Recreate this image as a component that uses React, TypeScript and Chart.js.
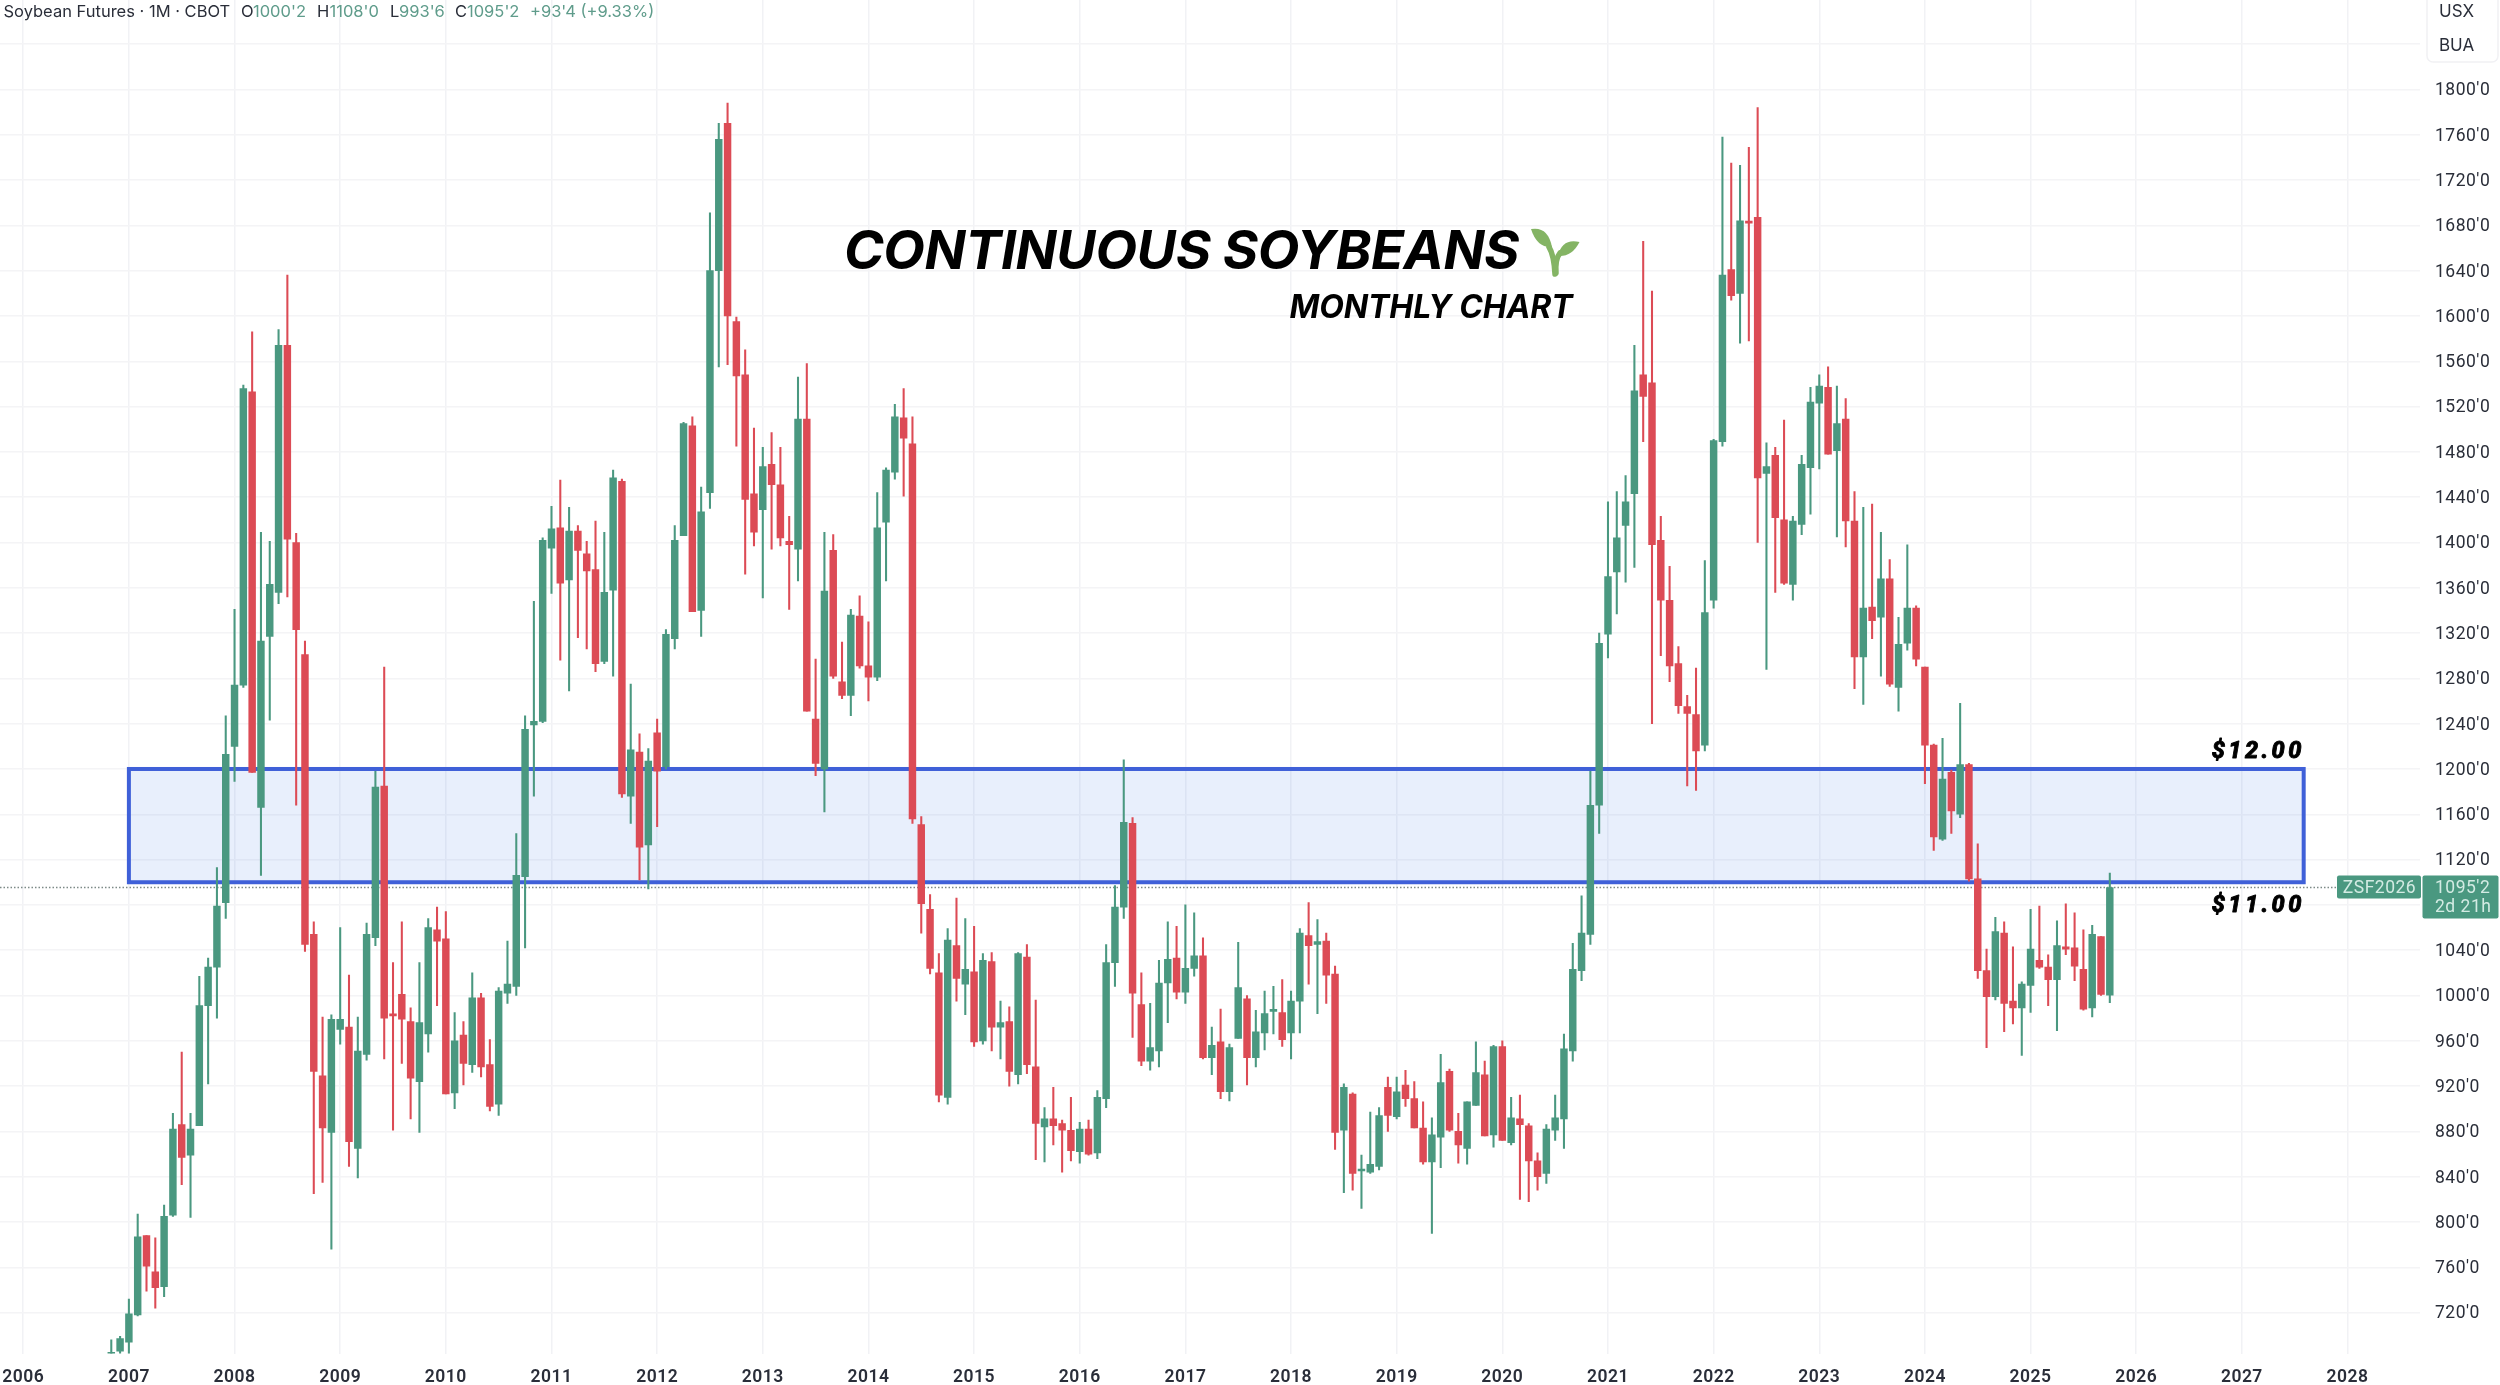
import React, { useEffect, useRef } from "react";
import { Chart, registerables } from "chart.js";

Chart.register(...registerables);

const firstYear = 2006;
const firstMonth = 10; // November

const opens = [
  672, 686,
  694, 718, 788, 756, 743, 806, 886, 859, 885, 991, 1025, 1082,
  1220, 1274, 1533, 1166, 1317, 1356, 1574, 1400, 1301, 1054, 929, 879,
  970, 972, 865, 948, 1051, 1185, 983, 1001, 977, 924, 966, 1058,
  1050, 914, 965, 939, 998, 939, 904, 1002, 1008, 1105, 1239, 1242,
  1395, 1413, 1367, 1410, 1390, 1376, 1295, 1358, 1454, 1176, 1215, 1133,
  1232, 1202, 1315, 1406, 1503, 1340, 1444, 1640, 1770, 1595, 1548, 1443,
  1429, 1469, 1451, 1401, 1394, 1509, 1244, 1200, 1393, 1277, 1265, 1335,
  1291, 1281, 1418, 1462, 1510, 1487, 1151, 1076, 1020, 910, 1044, 1010,
  1021, 960, 1030, 972, 977, 930, 1034, 937, 884, 891, 887, 881,
  862, 882, 861, 909, 1029, 1078, 1152, 992, 942, 951, 1011, 1033,
  1003, 1024, 1035, 945, 959, 915, 962, 997, 945, 967, 986, 985,
  967, 995, 1053, 1045, 1048, 1019, 881, 913, 845, 844, 849, 919,
  893, 921, 909, 883, 853, 875, 933, 880, 865, 903, 930, 877,
  955, 870, 891, 885, 854, 843, 881, 891, 951, 1022, 1054, 1168,
  1319, 1374, 1415, 1443, 1548, 1541, 1402, 1349, 1293, 1255, 1248, 1221,
  1349, 1489, 1641, 1620, 1683, 1687, 1461, 1477, 1420, 1363, 1416, 1466,
  1523, 1537, 1481, 1509, 1419, 1299, 1343, 1334, 1368, 1272, 1311, 1342,
  1290, 1221, 1138, 1197, 1160, 1204, 1103, 1022, 999, 1055, 995, 989,
  1009, 1031, 1025, 1014, 1043, 1042, 1023, 989, 1052, 1000.25,
];

const highs = [
  696, 699,
  732, 807, 788, 786, 815, 896, 950, 896, 1017, 1033, 1113, 1247,
  1341, 1539, 1586, 1409, 1401, 1588, 1636, 1408, 1313, 1065, 981, 983,
  1060, 1018, 981, 1064, 1198, 1290, 1029, 1065, 989, 1029, 1068, 1078,
  1074, 985, 977, 1020, 1002, 961, 1007, 1048, 1143, 1247, 1348, 1404,
  1432, 1455, 1431, 1415, 1401, 1419, 1409, 1464, 1456, 1275, 1231, 1218,
  1244, 1323, 1415, 1506, 1511, 1449, 1691, 1770, 1788, 1599, 1570, 1501,
  1484, 1497, 1484, 1423, 1546, 1558, 1297, 1409, 1407, 1312, 1341, 1353,
  1330, 1444, 1466, 1522, 1536, 1511, 1158, 1089, 1037, 1059, 1086, 1068,
  1061, 1037, 1038, 995, 990, 1038, 1045, 996, 901, 919, 890, 910,
  888, 890, 916, 1045, 1097, 1208, 1157, 1020, 993, 1031, 1065, 1061,
  1080, 1073, 1051, 972, 988, 957, 1047, 1000, 987, 1004, 1008, 1014,
  1004, 1059, 1082, 1067, 1055, 1026, 922, 914, 859, 897, 901, 928,
  928, 934, 924, 906, 892, 948, 935, 896, 906, 959, 942, 956,
  960, 910, 912, 887, 861, 886, 912, 966, 1046, 1088, 1198, 1320,
  1436, 1445, 1459, 1574, 1666, 1622, 1423, 1379, 1308, 1265, 1289, 1384,
  1491, 1758, 1735, 1733, 1749, 1784, 1488, 1484, 1508, 1423, 1477, 1537,
  1548, 1555, 1538, 1527, 1445, 1431, 1434, 1409, 1385, 1334, 1398, 1344,
  1290, 1222, 1227, 1199, 1258, 1205, 1134, 1041, 1069, 1065, 1043, 1012,
  1076, 1079, 1036, 1066, 1081, 1073, 1058, 1062, 1052, 1108,
];

const lows = [
  668, 682,
  682, 717, 739, 724, 734, 805, 833, 804, 885, 922, 980, 1068,
  1189, 1272, 1197, 1106, 1243, 1346, 1352, 1168, 1039, 825, 835, 776,
  957, 849, 839, 943, 1044, 944, 881, 940, 891, 879, 950, 991,
  913, 900, 921, 932, 928, 898, 894, 993, 1000, 1042, 1176, 1241,
  1355, 1296, 1269, 1316, 1306, 1286, 1293, 1282, 1175, 1152, 1102, 1094,
  1149, 1200, 1306, 1406, 1339, 1317, 1430, 1555, 1557, 1485, 1372, 1397,
  1351, 1394, 1397, 1341, 1366, 1251, 1194, 1162, 1280, 1262, 1247, 1289,
  1260, 1278, 1366, 1456, 1441, 1152, 1055, 1019, 906, 904, 995, 983,
  955, 957, 951, 944, 920, 922, 931, 855, 853, 868, 844, 854,
  852, 859, 856, 901, 1008, 1068, 963, 938, 934, 937, 976, 997,
  993, 1017, 944, 930, 909, 907, 962, 921, 937, 952, 966, 955,
  944, 967, 1010, 984, 993, 864, 826, 828, 812, 843, 846, 880,
  891, 902, 883, 851, 790, 848, 880, 852, 851, 903, 876, 866,
  872, 868, 820, 818, 828, 834, 872, 865, 942, 1013, 1045, 1143,
  1298, 1337, 1365, 1378, 1489, 1240, 1300, 1277, 1249, 1185, 1181, 1216,
  1342, 1485, 1614, 1576, 1578, 1400, 1288, 1356, 1363, 1349, 1407, 1425,
  1465, 1478, 1405, 1396, 1271, 1257, 1315, 1282, 1273, 1251, 1305, 1291,
  1187, 1128, 1137, 1143, 1157, 1101, 1015, 954, 996, 968, 975, 947,
  985, 1024, 991, 969, 1036, 1013, 987, 981, 1000, 993.75,
];

const closes = [
  685, 697,
  719, 787, 761, 742, 805, 882, 857, 882, 991, 1025, 1079, 1213,
  1274, 1536, 1197, 1313, 1363, 1574, 1403, 1323, 1045, 933, 883, 979,
  979, 871, 951, 1054, 1184, 980, 982, 979, 927, 976, 1060, 1048,
  913, 960, 940, 998, 937, 902, 1004, 1010, 1106, 1235, 1242, 1402,
  1412, 1364, 1410, 1393, 1375, 1293, 1356, 1457, 1178, 1217, 1131, 1207,
  1198, 1319, 1402, 1505, 1339, 1427, 1640, 1756, 1600, 1547, 1438, 1409,
  1467, 1451, 1404, 1398, 1509, 1251, 1205, 1357, 1282, 1265, 1336, 1291,
  1281, 1413, 1464, 1511, 1492, 1156, 1081, 1024, 912, 1049, 1015, 1023,
  959, 1031, 972, 976, 933, 1037, 939, 887, 891, 885, 881, 863,
  882, 860, 910, 1029, 1078, 1153, 1002, 942, 954, 1011, 1032, 1003,
  1024, 1035, 945, 956, 915, 954, 1007, 945, 968, 984, 986.5, 961,
  995, 1055, 1044, 1047.5, 1018, 879, 919, 843, 845, 851, 894, 894,
  915, 909, 883, 853, 877, 923, 881, 868, 906, 932, 876, 955,
  872, 892, 886, 854, 840, 882, 892, 953, 1023, 1055, 1168, 1311,
  1370, 1404, 1436, 1534, 1529, 1398, 1349, 1291, 1256, 1249, 1216, 1338,
  1490, 1636, 1618, 1684, 1682, 1457, 1467, 1422, 1364, 1419, 1469, 1524,
  1538, 1478, 1505, 1419, 1299, 1342, 1331, 1368, 1275, 1310, 1342, 1297,
  1221, 1140, 1191, 1163, 1204, 1103, 1022, 999, 1056.5, 993, 989, 1010,
  1041, 1025, 1014, 1044, 1041, 1026, 988, 1054, 1001, 1095.25,
];

const zoneTop = 1200;
const zoneBottom = 1100;
const zoneStartYear = 2007;
const zoneEndYear = 2027.585;
const lastPrice = 1095.25;

const titleText = "CONTINUOUS SOYBEANS";
const subtitleText = "MONTHLY CHART";
const upperLabel = "$12.00";
const lowerLabel = "$11.00";
const headerSegments: [string, string, number][] = [
  ["Soybean Futures · 1M · CBOT", "#2a2e39", 3.5],
  ["O", "#2a2e39", 241],
  ["1000'2", "#5f9c8b", 253],
  ["H", "#2a2e39", 317],
  ["1108'0", "#5f9c8b", 329.5],
  ["L", "#2a2e39", 390],
  ["993'6", "#5f9c8b", 399],
  ["C", "#2a2e39", 455],
  ["1095'2", "#5f9c8b", 467],
  ["+93'4 (+9.33%)", "#5f9c8b", 530],
];

const GREEN = "#4a9880";
const RED = "#dc4b55";
const FONT = "Inter, 'Noto Sans', sans-serif";
const AXIS_FONT = "Roboto, Inter, sans-serif";

const xValues = opens.map((_, i) => firstYear + (firstMonth + i) / 12);
const barColors = opens.map((o, i) => (closes[i] >= o ? GREEN : RED));

const noPadding = (s: any) => {
  s.paddingLeft = 0;
  s.paddingRight = 0;
  s.paddingTop = 0;
  s.paddingBottom = 0;
};

const overlay = {
  id: "overlay",
  beforeDraw(chart: any) {
    const { ctx, width, height } = chart;
    ctx.save();
    ctx.fillStyle = "#ffffff";
    ctx.fillRect(0, 0, width, height);
    ctx.restore();
    // tick labels are spaced like the platform's tabular figures
    ctx.letterSpacing = "0.5px";
    chart.scales.y.getLabelItems(chart.chartArea).forEach((item: any) => {
      item.textOffset = 1.5;
    });
  },
  beforeDatasetsDraw(chart: any) {
    const { ctx, scales } = chart;
    const x = scales.x;
    const y = scales.y;
    const l = x.getPixelForValue(zoneStartYear);
    const r = x.getPixelForValue(zoneEndYear);
    const t = y.getPixelForValue(zoneTop);
    const b = y.getPixelForValue(zoneBottom);
    ctx.save();
    ctx.fillStyle = "rgba(50,115,225,0.115)";
    ctx.fillRect(l, t, r - l, b - t);
    ctx.strokeStyle = "#3f60d8";
    ctx.lineWidth = 4;
    ctx.strokeRect(l, t, r - l, b - t);
    const py = y.getPixelForValue(lastPrice);
    ctx.strokeStyle = "#7d8a87";
    ctx.lineWidth = 1.5;
    ctx.setLineDash([1.5, 2]);
    ctx.beginPath();
    ctx.moveTo(0, py);
    ctx.lineTo(2337, py);
    ctx.stroke();
    ctx.restore();
  },
  afterDraw(chart: any) {
    const { ctx, scales } = chart;
    const y = scales.y;
    const x = scales.x;
    ctx.save();
    ctx.letterSpacing = "0px";
    ctx.textBaseline = "alphabetic";
    // header
    ctx.font = `400 16.5px ${FONT}`;
    ctx.textAlign = "left";
    headerSegments.forEach(([t, c, px]) => {
      ctx.fillStyle = c;
      ctx.fillText(t, px, 16.5);
    });
    // title
    ctx.fillStyle = "#000000";
    ctx.textAlign = "right";
    ctx.font = `italic 700 54px ${FONT}`;
    ctx.letterSpacing = "-0.45px";
    ctx.fillText(titleText, 1519, 269);
    ctx.font = `italic 700 32px ${FONT}`;
    ctx.letterSpacing = "-0.1px";
    ctx.fillText(subtitleText, 1572.5, 317.5);
    ctx.letterSpacing = "0px";
    // sprout
    ctx.fillStyle = "#84b464";
    ctx.strokeStyle = "#84b464";
    ctx.lineWidth = 5.5;
    ctx.lineCap = "round";
    ctx.beginPath();
    ctx.moveTo(1555, 274);
    ctx.quadraticCurveTo(1554, 255, 1549, 247);
    ctx.stroke();
    ctx.beginPath();
    ctx.moveTo(1556, 273);
    ctx.quadraticCurveTo(1555, 259, 1560, 253);
    ctx.stroke();
    ctx.beginPath();
    ctx.moveTo(1531, 229);
    ctx.quadraticCurveTo(1548, 226, 1552, 247);
    ctx.quadraticCurveTo(1537, 248, 1531, 229);
    ctx.fill();
    ctx.beginPath();
    ctx.moveTo(1579.5, 242);
    ctx.quadraticCurveTo(1562, 238, 1558, 256);
    ctx.quadraticCurveTo(1572, 257, 1579.5, 242);
    ctx.fill();
    // zone labels
    const labelX = x.getPixelForValue(zoneEndYear) + 1;
    ctx.fillStyle = "#000000";
    ctx.strokeStyle = "#000000";
    ctx.lineWidth = 0.9;
    ctx.lineJoin = "round";
    ctx.font = `italic 800 23.5px ${AXIS_FONT}`;
    ctx.letterSpacing = "3.4px";
    [
      [upperLabel, y.getPixelForValue(zoneTop) - 11],
      [lowerLabel, y.getPixelForValue(zoneBottom) + 30],
    ].forEach(([t, py]: any) => {
      ctx.fillText(t, labelX, py);
      ctx.strokeText(t, labelX, py);
    });
    ctx.letterSpacing = "0px";
    // price tags
    const py = y.getPixelForValue(lastPrice);
    ctx.fillStyle = GREEN;
    ctx.beginPath();
    ctx.roundRect(2337, py - 12, 84, 23, 2);
    ctx.fill();
    ctx.beginPath();
    ctx.roundRect(2422.5, py - 12, 76, 43, 2);
    ctx.fill();
    ctx.fillStyle = "#d3ebe3";
    ctx.font = `400 17.5px ${AXIS_FONT}`;
    ctx.textBaseline = "middle";
    ctx.textAlign = "center";
    ctx.letterSpacing = "0.5px";
    ctx.fillText("ZSF2026", 2379.5, py + 1);
    ctx.textAlign = "left";
    ctx.fillText("1095'2", 2435, py + 1);
    ctx.fillText("2d 21h", 2435, py + 20);
    ctx.letterSpacing = "0px";
    // currency / unit box
    ctx.strokeStyle = "#f1f1f4";
    ctx.lineWidth = 1.5;
    ctx.beginPath();
    ctx.roundRect(2427, -10, 71, 72, 6);
    ctx.fillStyle = "#ffffff";
    ctx.fill();
    ctx.stroke();
    ctx.fillStyle = "#2a2e39";
    ctx.font = `400 17px ${FONT}`;
    ctx.fillText("USX", 2439, 12);
    ctx.fillText("BUA", 2439, 46);
    ctx.restore();
  },
};

export default function App() {
  const ref = useRef<HTMLCanvasElement>(null);
  useEffect(() => {
    const chart = new Chart(ref.current as HTMLCanvasElement, {
      type: "bar",
      data: {
        datasets: [
          {
            label: "Body",
            data: xValues.map((x, i) => ({ x, y: [opens[i], closes[i]] })),
            backgroundColor: barColors,
            barThickness: 6.8,
            minBarLength: 2,
            grouped: false,
            order: 1,
          } as any,
          {
            label: "Wick",
            data: xValues.map((x, i) => ({ x, y: [lows[i], highs[i]] })),
            backgroundColor: barColors,
            barThickness: 1.4,
            grouped: false,
            order: 2,
          } as any,
        ],
      },
      plugins: [overlay],
      options: {
        animation: false,
        responsive: false,
        devicePixelRatio: 1,
        layout: { autoPadding: false, padding: 0 },
        plugins: { legend: { display: false }, tooltip: { enabled: false } },
        scales: {
          x: {
            type: "linear",
            min: 2005.78,
            max: 2028.686,
            offset: false,
            afterFit: (s: any) => {
              s.height = 31.4;
              noPadding(s);
            },
            grid: { color: "#f1f2f5", lineWidth: 1.5, drawTicks: false, offset: false },
            border: { display: false },
            ticks: {
              stepSize: 1,
              includeBounds: false,
              autoSkip: false,
              maxRotation: 0,
              padding: 14,
              color: "#2a2e39",
              font: { family: AXIS_FONT, size: 17.5, weight: "600" },
              callback: (v: any) => String(v),
            },
          },
          y: {
            type: "linear",
            position: "right",
            min: 683.8,
            max: 1879.0,
            afterFit: (s: any) => {
              s.width = 80;
              noPadding(s);
            },
            grid: { color: "#f4f4f6", lineWidth: 1.5, drawTicks: false },
            border: { display: false },
            ticks: {
              stepSize: 40,
              includeBounds: false,
              autoSkip: false,
              padding: 15,
              color: "#2a2e39",
              font: { family: AXIS_FONT, size: 17.5 },
              callback: (v: any) => (v <= 1800 ? `${v}'0` : ""),
            },
          },
        },
      },
    } as any);
    return () => chart.destroy();
  }, []);
  return (
    <div style={{ position: "fixed", left: 0, top: 0, width: 2500, height: 1385, background: "#fff", overflow: "hidden" }}>
      <canvas ref={ref} width={2500} height={1385} style={{ display: "block" }} />
    </div>
  );
}
